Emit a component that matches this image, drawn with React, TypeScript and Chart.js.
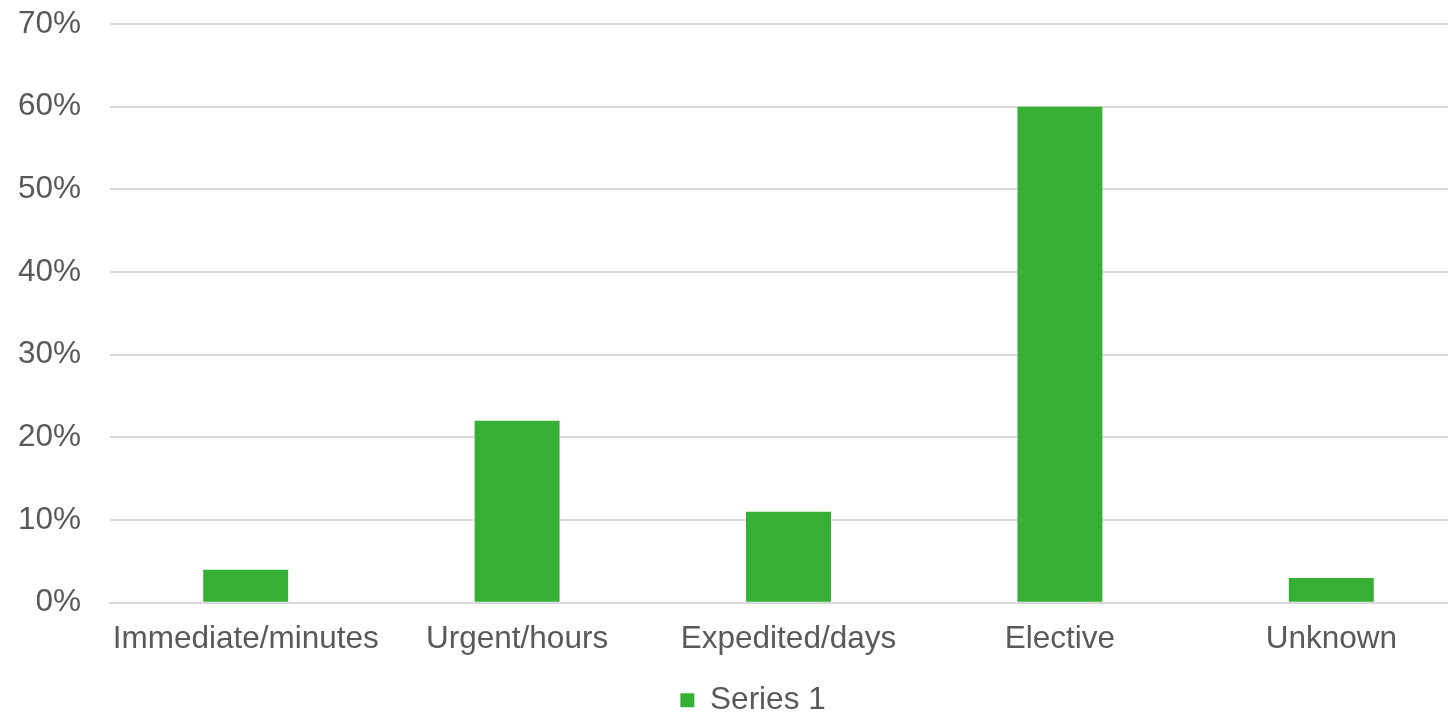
import React, { useEffect, useRef } from "react";
import { Chart, registerables } from "chart.js";

Chart.register(...registerables);

const categories = ["Immediate/minutes", "Urgent/hours", "Expedited/days", "Elective", "Unknown"];
const seriesName = "Series 1";
const seriesValues = [4, 22, 11, 60, 3];
const yTickMax = 70;
const yTickStep = 10;

const TEXT = "#595959";
const GRID = "#d9d9d9";
const BAR = "#35b035";
const FONT = { family: "'Liberation Sans', Arial, sans-serif", size: 31.5 };

export default function App() {
  const ref = useRef<HTMLCanvasElement | null>(null);

  useEffect(() => {
    if (!ref.current) return;
    const chart = new Chart(ref.current, {
      type: "bar",
      data: {
        labels: categories,
        datasets: [
          {
            label: seriesName,
            data: seriesValues,
            backgroundColor: BAR,
            borderWidth: 0,
            barPercentage: 0.313,
            categoryPercentage: 1,
          },
        ],
      },
      options: {
        animation: false,
        responsive: false,
        layout: { padding: { left: 0, top: 24, right: 0, bottom: -14 } },
        plugins: {
          tooltip: { enabled: false },
          legend: {
            position: "bottom",
            labels: {
              color: TEXT,
              font: FONT,
              boxWidth: 14,
              boxHeight: 14,
              padding: 8,
            },
          },
        },
        scales: {
          x: {
            afterFit: (s: any) => {
              s.paddingLeft = 0;
              s.paddingRight = 39;
            },
            grid: { display: false, drawTicks: false },
            border: { display: true, color: GRID, width: 2 },
            ticks: { color: TEXT, font: FONT, padding: 18, maxRotation: 0 },
          },
          y: {
            min: 0,
            max: yTickMax,
            afterFit: (s: any) => {
              s.width = 110;
              s.paddingTop = 0;
              s.paddingBottom = 0;
            },
            grid: { color: GRID, lineWidth: 2, drawTicks: false },
            border: { display: false },
            ticks: {
              stepSize: yTickStep,
              color: TEXT,
              font: FONT,
              padding: 29,
              callback: (v: any) => `${v}%`,
            },
          },
        },
      },
    });
    return () => chart.destroy();
  }, []);

  return (
    <div style={{ position: "fixed", left: 0, top: 0, width: 1448, height: 712, overflow: "hidden", background: "#fff" }}>
      <canvas ref={ref} width={1506} height={712} style={{ display: "block" }} />
    </div>
  );
}
